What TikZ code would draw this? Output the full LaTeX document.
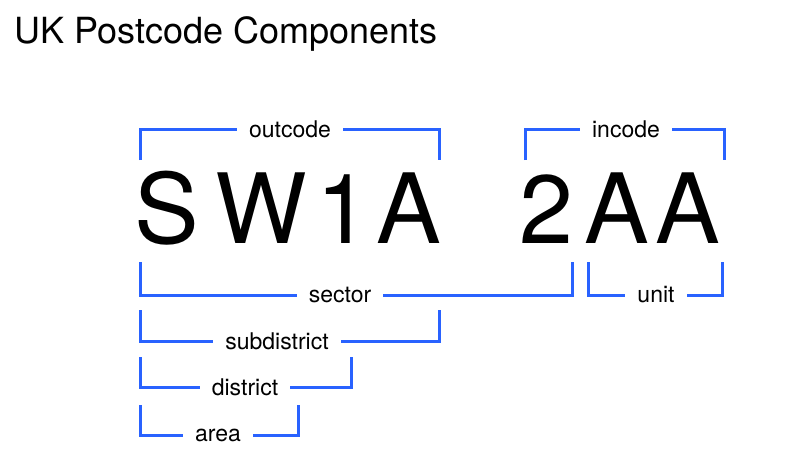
\documentclass[tikz,border=0pt]{standalone}
\usepackage{fontspec}
\setmainfont{TeX Gyre Heros}
\begin{document}
\begin{tikzpicture}[x=1pt,y=-1pt,
  br/.style={draw={rgb,255:red,41;green,98;blue,255},line width=3pt},
  lab/.style={fill=white,inner xsep=12pt,inner ysep=2pt,font=\fontsize{23}{26}\selectfont},
  big/.style={inner sep=0pt,anchor=base,font=\fontsize{97}{100}\selectfont}]
\useasboundingbox[fill=white] (0,0) rectangle (800,448);
\node[anchor=base west,inner sep=0pt,font=\fontsize{36}{40}\selectfont] (title) at (14,43) {UK Postcode Components};
% big letters
\node[big] (l1) at (167,243) {S};
\node[big] (l2) at (261,243) {W};
\node[big] (l3) at (343,243) {1};
\node[big] (l4) at (409,243) {A};
\node[big] (l5) at (546,243) {2};
\node[big] (l6) at (617,243) {A};
\node[big] (l7) at (688,243) {A};
% brackets
\draw[br] (140,160) -- (140,129) -- (439,129) -- (439,160);
\node[lab] (outcode) at (290,129) {outcode};
\draw[br] (525,160) -- (525,129) -- (724,129) -- (724,160);
\node[lab] (incode) at (626,129) {incode};
\draw[br] (140,262) -- (140,295) -- (572,295) -- (572,262);
\node[lab] (sector) at (340,295) {sector};
\draw[br] (588,262) -- (588,295) -- (722,295) -- (722,262);
\node[lab] (unit) at (656,295) {unit};
\draw[br] (140,310) -- (140,341) -- (439,341) -- (439,310);
\node[lab] (subdistrict) at (277,341) {subdistrict};
\draw[br] (140,357) -- (140,387) -- (351,387) -- (351,357);
\node[lab] (district) at (245,387) {district};
\draw[br] (140,405) -- (140,435) -- (298,435) -- (298,405);
\node[lab] (area) at (218,435) {area};
\end{tikzpicture}
\end{document}
